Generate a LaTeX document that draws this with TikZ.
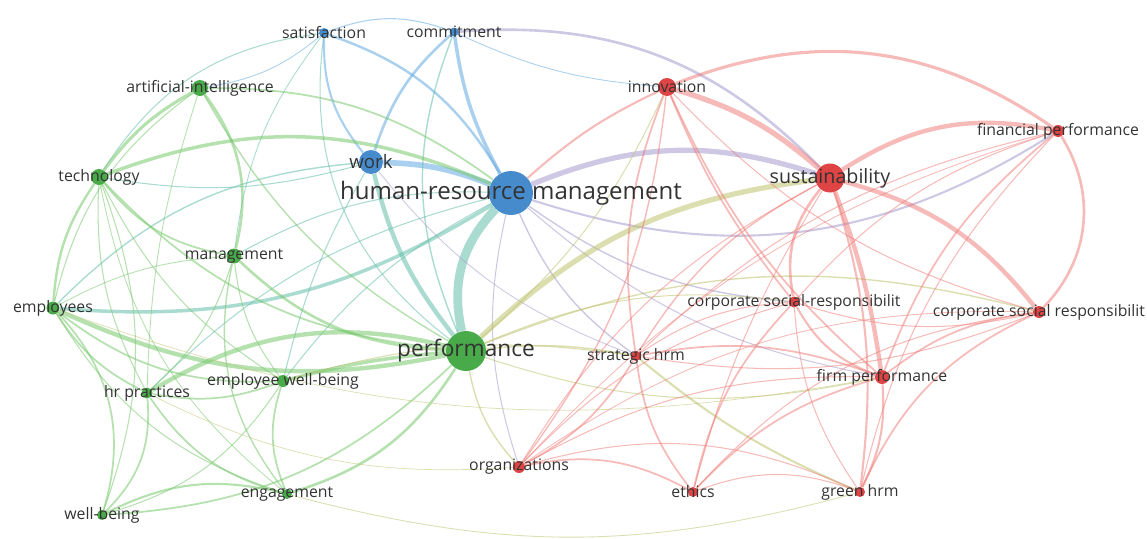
\documentclass[tikz,border=0pt]{standalone}
\usepackage{fontspec}
\setmainfont{Open Sans}
\usetikzlibrary{backgrounds}

\definecolor{kwgreen}{RGB}{72,170,72}
\definecolor{kwblue}{RGB}{70,140,205}
\definecolor{kwred}{RGB}{222,68,68}
\definecolor{lgreen}{RGB}{120,200,110}
\definecolor{lblue}{RGB}{100,170,225}
\definecolor{lred}{RGB}{238,120,115}
\definecolor{lviolet}{RGB}{165,155,205}
\definecolor{lolive}{RGB}{190,195,110}
\definecolor{lteal}{RGB}{100,190,170}

\tikzset{
  kw/.style={circle, inner sep=0pt, draw=none},
  lbl/.style={font=\fontsize{9}{10}\selectfont, text=black!80, inner sep=0pt},
  gline/.style={lgreen, opacity=0.55},
  bline/.style={lblue, opacity=0.55},
  rline/.style={lred, opacity=0.5},
  vline/.style={lviolet, opacity=0.55},
  oline/.style={lolive, opacity=0.55},
  tline/.style={lteal, opacity=0.55}
}

\begin{document}
\begin{tikzpicture}[x=0.02cm, y=0.02cm]
  \useasboundingbox (0,0) rectangle (1147,-538);

  % Blue cluster
  \node[kw, fill=kwblue, minimum size=0.88cm, label={[lbl, font=\fontsize{13.7}{15}\selectfont]center:human-resource management}] (hrm) at (511,-193) {};
  \node[kw, fill=kwblue, minimum size=0.48cm, label={[lbl, font=\fontsize{10.6}{12}\selectfont]center:work}] (work) at (371,-162) {};
  \node[kw, fill=kwblue, minimum size=0.2cm, label={[lbl]center:satisfaction}] (satis) at (324,-33) {};
  \node[kw, fill=kwblue, minimum size=0.18cm, label={[lbl]center:commitment}] (commit) at (454,-32) {};

  % Green cluster
  \node[kw, fill=kwgreen, minimum size=0.8cm, label={[lbl, font=\fontsize{12.9}{14}\selectfont]center:performance}] (perf) at (466,-351) {};
  \node[kw, fill=kwgreen, minimum size=0.32cm, label={[lbl]center:artificial-intelligence}] (ai) at (200,-88) {};
  \node[kw, fill=kwgreen, minimum size=0.32cm, label={[lbl]center:technology}] (tech) at (99,-177) {};
  \node[kw, fill=kwgreen, minimum size=0.3cm, label={[lbl]center:management}] (mgmt) at (234,-256) {};
  \node[kw, fill=kwgreen, minimum size=0.26cm, label={[lbl]center:employees}] (empl) at (53,-308) {};
  \node[kw, fill=kwgreen, minimum size=0.22cm, label={[lbl]center:hr practices}] (hrp) at (147,-393) {};
  \node[kw, fill=kwgreen, minimum size=0.24cm, label={[lbl]center:employee well-being}] (ewb) at (283,-381) {};
  \node[kw, fill=kwgreen, minimum size=0.2cm, label={[lbl]center:engagement}] (engage) at (287,-494) {};
  \node[kw, fill=kwgreen, minimum size=0.2cm, label={[lbl]center:well-being}] (wb) at (102,-515) {};

  % Red cluster
  \node[kw, fill=kwred, minimum size=0.58cm, label={[lbl, font=\fontsize{11.2}{13}\selectfont]center:sustainability}] (sust) at (830,-178) {};
  \node[kw, fill=kwred, minimum size=0.36cm, label={[lbl]center:innovation}] (innov) at (667,-87) {};
  \node[kw, fill=kwred, minimum size=0.24cm, label={[lbl]center:financial performance}] (finp) at (1058,-131) {};
  \node[kw, fill=kwred, minimum size=0.22cm, label={[lbl]center:corporate social-responsibilit}] (csrh) at (794,-302) {};
  \node[kw, fill=kwred, minimum size=0.24cm, label={[lbl]center:corporate social responsibilit}] (csr) at (1039,-312) {};
  \node[kw, fill=kwred, minimum size=0.2cm, label={[lbl]center:strategic hrm}] (shrm) at (636,-356) {};
  \node[kw, fill=kwred, minimum size=0.28cm, label={[lbl]center:firm performance}] (firm) at (882,-377) {};
  \node[kw, fill=kwred, minimum size=0.24cm, label={[lbl]center:organizations}] (orgs) at (519,-467) {};
  \node[kw, fill=kwred, minimum size=0.2cm, label={[lbl]center:ethics}] (ethics) at (693,-492) {};
  \node[kw, fill=kwred, minimum size=0.2cm, label={[lbl]center:green hrm}] (ghrm) at (860,-492) {};

  % Links (behind the circles)
  \begin{scope}[on background layer]
    \foreach \a/\b/\k/\w in {work/hrm/10/3.2, satis/work/-20/1.2, commit/work/-15/1.5, satis/hrm/20/1.4,
        commit/hrm/-10/2, satis/commit/20/0.6, satis/ai/15/0.5, commit/innov/-10/0.5}
      \draw[bline, line width=\w pt] (\a) to[bend left=\k] (\b);
    \foreach \a/\b/\k/\w in {hrm/perf/-28/5, work/perf/-12/2.5, hrm/empl/18/2, satis/tech/-25/0.6,
        satis/perf/-30/0.6, commit/perf/-22/0.8, hrm/mgmt/-15/0.6, hrm/hrp/-15/0.6,
        hrm/ewb/-12/0.6, work/empl/-20/0.8, work/tech/12/0.6, work/ewb/-8/0.6, satis/mgmt/-15/0.5}
      \draw[tline, line width=\w pt] (\a) to[bend left=\k] (\b);
    \foreach \a/\b/\k/\w in {tech/hrm/22/2, ai/hrm/18/1, ai/tech/-12/1.8, ai/mgmt/25/1.5, ai/empl/-20/0.6,
        ai/perf/-15/0.8, ai/hrp/-8/0.5, tech/empl/-15/1.4, tech/mgmt/-20/1, tech/hrp/-15/0.6,
        tech/wb/20/0.6, tech/perf/-20/1, tech/ewb/-15/0.6, tech/engage/-20/0.5,
        empl/perf/-18/2.5, empl/ewb/-20/1, empl/hrp/-15/1, empl/wb/30/1, empl/engage/-20/0.6,
        empl/mgmt/12/0.5, mgmt/perf/-20/1.5, mgmt/ewb/-15/0.6, mgmt/hrp/15/0.6,
        mgmt/engage/-25/0.8, hrp/perf/22/2.5, hrp/ewb/-15/1, hrp/engage/-20/1, hrp/wb/25/1,
        ewb/perf/5/2, ewb/engage/-20/1, engage/perf/-20/1.5, wb/engage/20/1.2, wb/perf/-20/1,
        wb/ewb/-20/0.6}
      \draw[gline, line width=\w pt] (\a) to[bend left=\k] (\b);
    \foreach \a/\b/\k/\w in {commit/sust/25/1.5, hrm/sust/20/3, hrm/finp/-25/1.2, hrm/csrh/-15/0.8,
        hrm/shrm/-15/0.8, hrm/firm/-15/0.6, hrm/orgs/-15/0.6, work/shrm/-15/0.5}
      \draw[vline, line width=\w pt] (\a) to[bend left=\k] (\b);
    \foreach \a/\b/\k/\w in {perf/sust/18/3, perf/csr/18/0.8, perf/firm/-15/0.6,
        perf/shrm/8/0.8, perf/orgs/-15/0.8, perf/csrh/15/0.6, ewb/shrm/12/0.6, shrm/ghrm/-8/1.2,
        engage/ghrm/-15/0.5, hrp/orgs/-15/0.4, empl/firm/-15/0.4, innov/perf/12/0.6}
      \draw[oline, line width=\w pt] (\a) to[bend left=\k] (\b);
    \foreach \a/\b/\k/\w in {hrm/innov/8/1.2, innov/sust/12/3, innov/finp/28/1.8, innov/firm/-12/1, innov/csrh/-8/1,
        innov/shrm/-15/1, innov/orgs/15/0.8, innov/csr/-15/0.6,
        sust/finp/22/2.5, sust/csr/18/2.5, sust/firm/6/2.5, sust/csrh/-25/1.5, sust/ghrm/12/1.2,
        sust/shrm/-15/0.8, sust/orgs/-15/0.6, sust/ethics/-8/0.6,
        finp/csr/38/1.5, finp/firm/-15/1, finp/shrm/-15/0.6, finp/csrh/-15/0.6, finp/ghrm/-15/0.6,
        finp/orgs/-15/0.5, csr/firm/-15/1, csr/ghrm/-20/1, csr/shrm/15/0.6, csr/csrh/15/0.6,
        csr/ethics/-20/0.6, csr/orgs/-18/0.5, csrh/firm/-20/1.2, csrh/shrm/-15/0.6,
        csrh/ethics/-15/1, csrh/ghrm/-15/0.6, csrh/orgs/-15/0.6, firm/ghrm/15/1.2,
        firm/shrm/-15/1, firm/ethics/-15/1, firm/orgs/-15/0.6, shrm/orgs/15/1, shrm/ethics/-15/1,
        orgs/ethics/20/1, orgs/ghrm/20/0.6, ethics/ghrm/20/0.6}
      \draw[rline, line width=\w pt] (\a) to[bend left=\k] (\b);
  \end{scope}
\end{tikzpicture}
\end{document}
